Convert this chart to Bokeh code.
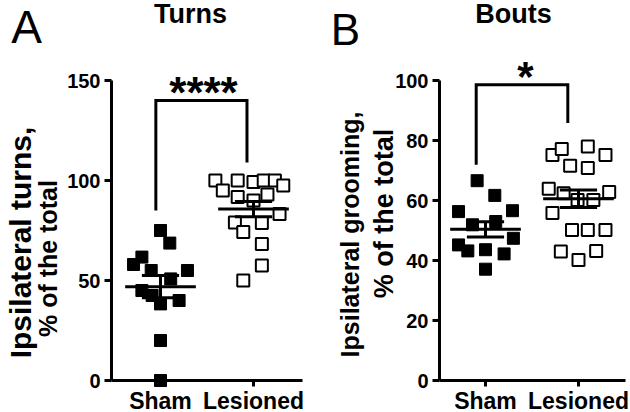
import math
import numpy as np
from bokeh.plotting import figure
from bokeh.models import Range1d, FixedTicker, Label
from bokeh.layouts import row
from bokeh.embed import file_html
from bokeh.resources import INLINE

# ---------------- data ----------------
categories = ["Sham", "Lesioned"]

turns_sham = [75, 68.7, 61.7, 58, 55, 55, 50.8, 45, 42.5, 38.3, 40, 20, 0]
turns_sham_jitter = [0.0, 0.10, -0.20, -0.29, -0.10, 0.29, 0.11, -0.20, -0.09, 0.0, 0.20, 0.0, 0.0]
turns_les = [100, 95, 100, 99.2, 100, 100, 97.5, 91.7, 90, 93, 79, 74.2, 78.7, 83.3, 68.3, 57.5, 50]
turns_les_jitter = [-0.41, -0.33, -0.17, 0.0, 0.11, 0.23, 0.32, -0.17, 0.0, 0.15, -0.20, -0.11, 0.09, 0.28, 0.09, 0.09, -0.11]

bouts_sham = [66.6, 61.7, 56.3, 56.6, 51.9, 53, 47.4, 45.2, 43.2, 43.6, 42.2, 37.1]
bouts_sham_jitter = [-0.09, 0.10, -0.29, 0.29, -0.14, 0.11, 0.30, -0.29, -0.19, 0.0, 0.20, 0.0]
bouts_les = [75.2, 77.2, 78, 75.2, 71.6, 70.8, 63.9, 62.8, 62.4, 60.2, 60.2, 55.8, 50.2, 50.2, 50.2, 43, 40.2, 43.2]
bouts_les_jitter = [-0.28, -0.18, 0.10, 0.29, -0.09, 0.10, -0.32, 0.33, -0.16, -0.01, 0.16, -0.28, -0.07, 0.10, 0.29, -0.19, 0.0, 0.19]

turns_ticks = [0, 50, 100, 150]
bouts_ticks = [0, 20, 40, 60, 80, 100]

# significance brackets (category x, value y)
turns_bracket_x = [-0.05, -0.05, 0.93, 0.93]
turns_bracket_y = [85, 140, 140, 109]
bouts_bracket_x = [-0.10, -0.10, 0.885, 0.885]
bouts_bracket_y = [71.9, 98.6, 98.6, 85.8]

FONT = "Liberation Sans"
FIG_H = 412
Y0_PIC = 380
CAT_PX = 93


def make_panel(letter, title, stars, ylab1, ylab2, sham, sham_j, les, les_j,
               yticks, fig_left, fig_w, ax_pic, sham_pic, right_pic, k, lay):
    def px(pic_x):
        return (pic_x - sham_pic) / CAT_PX

    def py(pic_y):
        return (Y0_PIC - pic_y) / k

    p = figure(width=fig_w, height=FIG_H,
               x_range=Range1d(px(fig_left), px(fig_left + fig_w)),
               y_range=Range1d(py(FIG_H), py(0)),
               output_backend="svg", toolbar_location=None,
               min_border=0, min_border_left=0, min_border_right=0,
               min_border_top=0, min_border_bottom=0)
    p.outline_line_color = None
    p.grid.visible = False
    p.background_fill_color = "white"
    p.border_fill_color = "white"

    xa = p.xaxis[0]
    xa.ticker = FixedTicker(ticks=[0, 1])
    xa.major_label_overrides = {0: categories[0], 1: categories[1]}
    xa.fixed_location = 0
    xa.bounds = (px(ax_pic), px(right_pic))
    xa.axis_line_width = 3
    xa.major_tick_line_width = 3
    xa.major_tick_out = 6
    xa.major_tick_in = 0
    xa.minor_tick_line_color = None
    xa.major_label_text_font = FONT
    xa.major_label_text_font_size = "23px"
    xa.major_label_text_font_style = "bold"
    xa.major_label_text_color = "black"
    xa.major_label_standoff = 1

    ya = p.yaxis[0]
    ya.ticker = FixedTicker(ticks=yticks)
    ya.fixed_location = px(ax_pic)
    ya.bounds = (0, yticks[-1])
    ya.axis_line_width = 3
    ya.major_tick_line_width = 3
    ya.major_tick_out = 7
    ya.major_tick_in = 0
    ya.minor_tick_line_color = None
    ya.major_label_text_font = FONT
    ya.major_label_text_font_size = "20px"
    ya.major_label_text_font_style = "bold"
    ya.major_label_text_color = "black"
    ya.major_label_standoff = 4

    p.scatter(x=[0 + j for j in sham_j], y=sham, marker="square", size=12,
              fill_color="black", line_color="black", line_width=1)
    p.scatter(x=[1 + j for j in les_j], y=les, marker="square", size=12,
              fill_color="white", line_color="black", line_width=2)

    for i, vals in enumerate([sham, les]):
        arr = np.array(vals, dtype=float)
        m = arr.mean()
        s = arr.std(ddof=1) / math.sqrt(len(arr))
        p.segment(x0=[i - 0.38], y0=[m], x1=[i + 0.38], y1=[m],
                  line_color="black", line_width=3)
        p.segment(x0=[i, i - 0.2, i - 0.2], y0=[m - s, m + s, m - s],
                  x1=[i, i + 0.2, i + 0.2], y1=[m + s, m + s, m - s],
                  line_color="black", line_width=3)

    bx, by = lay["bracket"]
    p.line(x=bx, y=by, line_color="black", line_width=3, line_join="miter")

    def lab(key, text, size, style="bold", angle=0.0):
        x, y = lay[key]
        p.add_layout(Label(x=px(x), y=py(y), text=text, text_font=FONT,
                           text_font_size=size, text_font_style=style,
                           text_color="black", text_align="center",
                           text_baseline="middle", angle=angle))

    lab("letter", letter, lay["sizes"][0], style="normal")
    lab("title", title, lay["sizes"][1])
    lab("stars", stars, lay["sizes"][2])
    lab("yl1", ylab1, lay["sizes"][3], angle=math.pi / 2)
    lab("yl2", ylab2, lay["sizes"][4], angle=math.pi / 2)
    return p


pa = make_panel("A", "Turns", "****", "Ipsilateral turns,", "% of the total",
                turns_sham, turns_sham_jitter, turns_les, turns_les_jitter, turns_ticks,
                fig_left=0, fig_w=315, ax_pic=111, sham_pic=160, right_pic=302, k=2.0,
                lay={"bracket": (turns_bracket_x, turns_bracket_y),
                     "letter": (26, 26), "title": (190, 13), "stars": (203, 92),
                     "yl1": (20, 242), "yl2": (47, 258),
                     "sizes": ("46px", "27px", "44px", "30px", "25px")})

pb = make_panel("B", "Bouts", "*", "Ipsilateral grooming,", "% of the total",
                bouts_sham, bouts_sham_jitter, bouts_les, bouts_les_jitter, bouts_ticks,
                fig_left=315, fig_w=315, ax_pic=439, sham_pic=485, right_pic=625, k=3.0,
                lay={"bracket": (bouts_bracket_x, bouts_bracket_y),
                     "letter": (345, 29), "title": (513, 13), "stars": (525, 76),
                     "yl1": (349, 234), "yl2": (383, 213),
                     "sizes": ("44px", "27px", "42px", "25px", "27px")})

layout = row(pa, pb)
open("out.html", "w").write(file_html(layout, INLINE))
